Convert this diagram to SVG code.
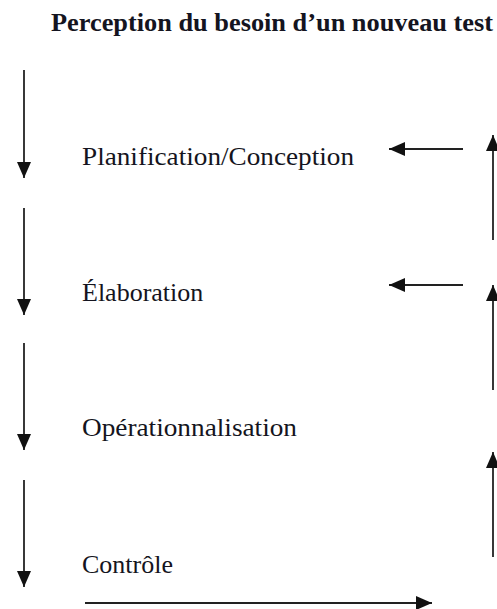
<svg xmlns="http://www.w3.org/2000/svg" width="497" height="609" viewBox="0 0 497 609">
<style>
text{font-family:'Liberation Serif','Times New Roman',serif;font-size:26px;fill:#141420}
.ttl{font-weight:bold}
.c{stroke:#222;stroke-width:1.8;fill:none;marker-end:url(#ah)}
</style>
<defs>
<marker id="ah" markerUnits="userSpaceOnUse" markerWidth="16" markerHeight="14" refX="16" refY="7" orient="auto">
<path d="M0,0 L16,7 L0,14 z" fill="#111"/>
</marker>
</defs>
<rect width="497" height="609" fill="#fff"/>
<g id="title"><text class="ttl" font-family="Liberation Serif, serif" x="51" y="31" textLength="442" lengthAdjust="spacingAndGlyphs">Perception du besoin d’un nouveau test</text></g>
<g id="planification"><text font-family="Liberation Serif, serif" x="82" y="165" textLength="272" lengthAdjust="spacingAndGlyphs">Planification/Conception</text></g>
<g id="elaboration"><text font-family="Liberation Serif, serif" x="82" y="301">Élaboration</text></g>
<g id="operationnalisation"><text font-family="Liberation Serif, serif" x="82" y="436" textLength="215" lengthAdjust="spacingAndGlyphs">Opérationnalisation</text></g>
<g id="controle"><text font-family="Liberation Serif, serif" x="82" y="573">Contrôle</text></g>
<g id="connectors">
<line class="c" x1="24" y1="70" x2="24" y2="178"/>
<line class="c" x1="24" y1="208" x2="24" y2="315"/>
<line class="c" x1="24" y1="343" x2="24" y2="450"/>
<line class="c" x1="24" y1="480" x2="24" y2="587"/>
<line class="c" x1="463" y1="149" x2="389" y2="149"/>
<line class="c" x1="463" y1="285" x2="389" y2="285"/>
<line class="c" x1="493" y1="240" x2="493" y2="135"/>
<line class="c" x1="493" y1="390" x2="493" y2="285"/>
<line class="c" x1="493" y1="557" x2="493" y2="452"/>
<line class="c" x1="85" y1="603" x2="432" y2="603"/>
</g>
</svg>
